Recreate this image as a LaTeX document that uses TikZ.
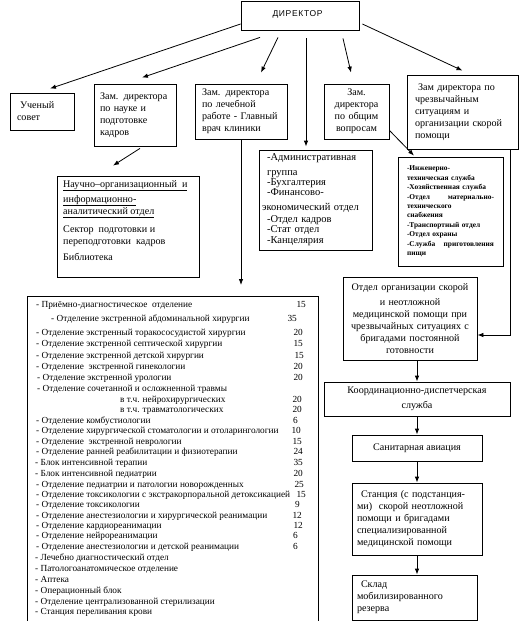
\documentclass[tikz,border=0pt]{standalone}
\usepackage{fontspec}
\setmainfont{Liberation Serif}
\newfontfamily\dirfont{Liberation Sans}
\usetikzlibrary{arrows.meta,calc}
\begin{document}
\begin{tikzpicture}[x=1pt,y=-1pt,
  box/.style={draw,line width=0.8pt,inner sep=0pt,anchor=center},
  arr/.style={line width=0.8pt,-{Latex[length=6pt,width=4.5pt]}},
  txt/.style={font=\fontsize{10.1}{12}\selectfont},
  row/.style={inner sep=0pt,font=\fontsize{9.3}{10.6}\selectfont},
]
\clip (0,0) rectangle (523,621);
\fill[white] (0,0) rectangle (523,621);

% top level
\node[box,minimum width=118pt,minimum height=29pt,font=\dirfont\fontsize{8.5}{10}\selectfont\addfontfeature{LetterSpace=8}] (dir) at (300,15.5) {\raisebox{3pt}{ДИРЕКТОР}\hspace*{5pt}};

\node[box,minimum width=64pt,minimum height=37pt,txt,align=left,text width=50pt,inner xsep=7pt] (uc) at (42,111.5) {\hspace*{3pt}Ученый\\совет};
\node[box,minimum width=82pt,minimum height=62pt,txt,align=left,text width=70pt,inner xsep=6pt] (nauka) at (135,115) {Зам. директора\\по науке и\\подготовке\\кадров};
\node[box,minimum width=92pt,minimum height=55pt,txt,align=left,text width=78pt,inner xsep=7pt] (lech) at (241,111.5) {Зам. директора\\по лечебной\\работе -~Главный\\врач клиники};
\node[box,minimum width=65pt,minimum height=55pt,txt,align=center,text width=63pt,inner xsep=1pt] (obsh) at (356.5,111.5) {Зам.\\директора\\по общим\\вопросам};
\node[box,minimum width=111pt,minimum height=74pt,txt,align=left,text width=95pt,inner xsep=8pt] (chs) at (462.5,112) {\hspace*{3pt}Зам директора по\\чрезвычайным\\ситуациям и\\организации скорой\\помощи};

% second level
\node[box,minimum width=113pt,minimum height=100pt,align=left,text width=97pt,inner xsep=8pt,font=\fontsize{10.5}{11}\selectfont] (admin) at (315.5,200) {-Административная\\[4pt]группа\\[-1pt]-Бухгалтерия\\[-1pt]-Финансово-\\[4pt]\hspace*{-5pt}экономический отдел\\[1pt]-Отдел кадров\\[-1pt]-Стат отдел\\-Канцелярия};

\node[box,minimum width=142pt,minimum height=101pt] (nauch) at (128,226.5) {};
\node[inner sep=0pt,anchor=north west,align=left,txt] (nauchtxt) at (63,180) {\underline{Научно–организационный\ \ и}\\[3pt]\underline{информационно-}\\\underline{аналитический отдел}\\[6pt]Сектор\ \ подготовки и\\переподготовки\ \ кадров\\[4pt]Библиотека};

\node[box,minimum width=105pt,minimum height=109pt,align=left,text width=87pt,inner xsep=9pt,font=\bfseries\fontsize{7.4}{9.4}\selectfont] (hoz) at (450.5,211.5) {-Инженерно-\\техническая служба\\-Хозяйственная служба\\-Отдел\hfill материально-\\технического\\снабжения\\-Транспортный отдел\\-Отдел охраны\\-Служба\hfill приготовления\\пищи};

% emergency chain
\node[box,minimum width=134pt,minimum height=83pt,txt,align=center,text width=130pt,inner xsep=2pt] (otdel) at (410,318.5) {Отдел организации скорой\\[3pt]и неотложной\\медицинской помощи при\\чрезвычайных ситуациях с\\бригадами постоянной\\готовности};
\node[box,minimum width=186pt,minimum height=34pt,txt,align=center,text width=180pt,inner xsep=3pt] (koord) at (417,399) {Координационно-диспетчерская\\[3pt]служба};
\node[box,minimum width=130pt,minimum height=26pt,txt] (sanav) at (417,448) {Санитарная авиация};
\node[box,minimum width=130pt,minimum height=72pt,txt,align=left,text width=120pt,inner xsep=5pt] (stan) at (417,519) {\hspace*{4pt}Станция (с подстанция-\\ми)\ \ скорой неотложной\\помощи и бригадами\\специализированной\\медицинской помощи};
\node[box,minimum width=125pt,minimum height=45pt,txt,align=left,text width=115pt,inner xsep=5pt] (sklad) at (414.5,597.5) {\hspace*{4pt}Склад\\мобилизированного\\резерва};

% main departments box
\node[box,minimum width=291pt,minimum height=340pt,anchor=north west] (main) at (27,296) {};
\foreach \i/\yy/\xx/\t in {
 1/305/36/{- Приёмно-диагностическое\ \ отделение},
 2/319/51/{- Отделение экстренной абдоминальной хирургии},
 3/333/36/{- Отделение экстренный торакососудистой хирургии},
 4/344/36/{- Отделение экстренной септической\ хирургии},
 5/356/36/{- Отделение экстренной детской хирургии},
 6/367/36/{- Отделение\ \ экстренной гинекологии},
 7/378/37/{- Отделение экстренной урологии},
 8/389/37/{- Отделение сочетанной и осложненной травмы},
 9/400/120/{в т.ч. нейрохирургических},
 10/410/120/{в т.ч. травматологических},
 11/421/36/{- Отделение комбустиологии},
 12/431/36/{- Отделение хирургической стоматологии и отоларингологии},
 13/442/36/{- Отделение\ \ экстренной неврологии},
 14/452/36/{- Отделение ранней реабилитации и физиотерапии},
 15/463/35/{- Блок интенсивной терапии},
 16/474/35/{- Блок интенсивной педиатрии},
 17/485/36/{- Отделение педиатрии и патологии новорожденных},
 18/495/36/{- Отделение токсикологии с экстракорпоральной детоксикацией},
 19/505/36/{- Отделение токсикологии},
 20/516/36/{- Отделение анестезиологии и хирургической реанимации},
 21/526/36/{- Отделение кардиореанимации},
 22/536/36/{- Отделение нейрореанимации},
 23/547/36/{- Отделение анестезиологии и детской реанимации},
 24/558/35/{- Лечебно диагностический отдел},
 25/569/35/{- Патологоанатомическое отделение},
 26/580/35/{- Аптека},
 27/591/35/{- Операционный блок},
 28/602/35/{- Отделение централизованной стерилизации},
 29/612/35/{- Станция переливания крови}}
 {\node[row,anchor=mid west] (l\i) at (\xx,\yy) {\t};}
\foreach \i/\yy/\xx/\n in {
 1/305/306/15, 2/319/297/35, 3/333/303/20, 4/344/303/15, 5/356/304/15,
 6/367/303/20, 7/378/303/20, 9/400/302/20, 10/410/302/20, 11/421/298/6,
 12/431/301/10, 13/442/302/15, 14/452/303/24, 15/463/303/35, 16/474/303/20,
 17/485/304/25, 18/495/306/15, 19/505/300/9, 20/516/302/12, 21/526/303/12,
 22/536/298/6, 23/547/298/6}
 {\node[row,anchor=mid east] (n\i) at (\xx,\yy) {\n};}

% connectors from director
\draw[arr] ([yshift=-8.5pt]dir.west) -- ([xshift=8pt,yshift=4pt]uc.north);
\draw[arr] ([xshift=-40pt,yshift=-7pt]dir.south) -- ([xshift=7pt,yshift=6pt]nauka.north);
\draw[arr] ([xshift=-22pt,yshift=-7pt]dir.south) -- ([xshift=20pt,yshift=11pt]lech.north);
\draw[arr] ([xshift=6pt,yshift=-8pt]dir.south) -- ([xshift=-9.5pt,yshift=3pt]admin.north);
\draw[arr] ([xshift=43pt,yshift=-8pt]dir.south) -- ([xshift=-5.5pt,yshift=11pt]obsh.north);
\draw[arr] ([xshift=3pt,yshift=-8.5pt]dir.east) -- ([yshift=4pt]chs.north);

% second-level connectors
\draw[arr] ([xshift=5pt,yshift=-2pt]nauka.south) -- ([xshift=-15pt,yshift=10pt]nauch.north);
\draw[arr,shorten >=11pt] (lech.south) -- (lech.south |- main.north);
\draw[arr] ([yshift=9pt]obsh.south east) -- ([xshift=-36.5pt,yshift=1pt]hoz.north);
\draw[arr] ([xshift=-8pt]chs.south east) |- ([yshift=-16.5pt]otdel.east);

% emergency chain connectors
\draw[arr] (koord.north |- otdel.south) -- (koord.north);
\draw[arr] (koord.south) -- (sanav.north);
\draw[arr] (sanav.south) -- (stan.north);
\draw[arr] (stan.south) -- (stan.south |- sklad.north);
\end{tikzpicture}
\end{document}
